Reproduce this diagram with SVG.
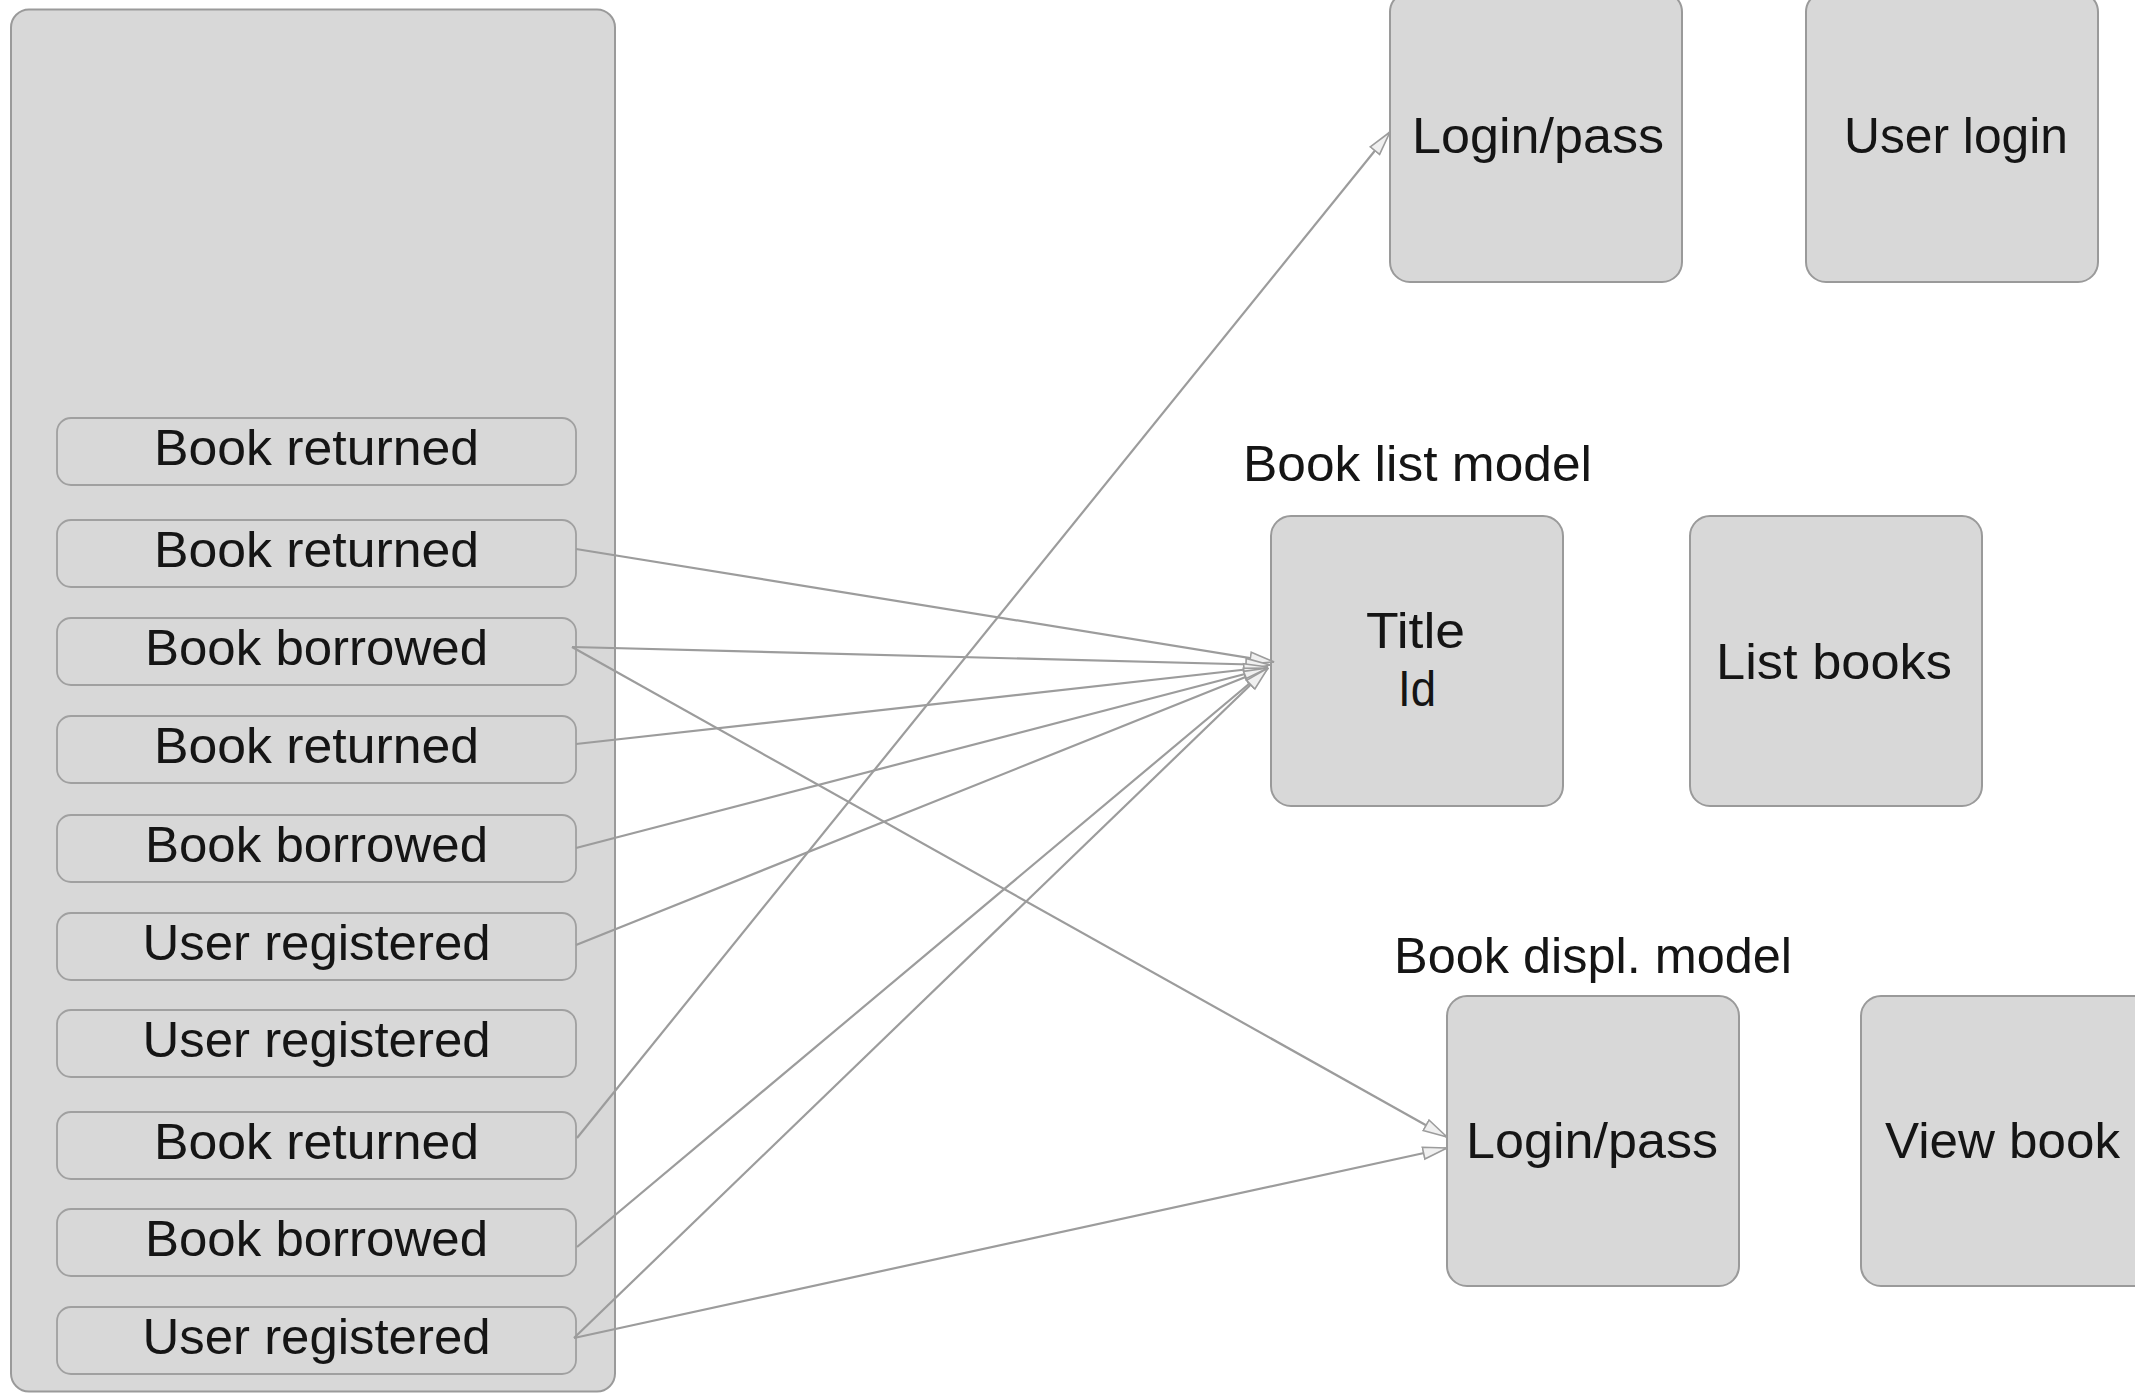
<svg xmlns="http://www.w3.org/2000/svg" width="2135" height="1393" viewBox="0 0 2135 1393">
  <style>
    .container { fill: #d8d8d8; stroke: #9a9a9a; stroke-width: 2; }
    .event { fill: #d8d8d8; stroke: #a0a0a0; stroke-width: 1.8; }
    .box { fill: #d8d8d8; stroke: #9a9a9a; stroke-width: 2; }
    .t { font-family: "Liberation Sans", Arial, sans-serif; font-size: 50px; fill: #151515; }
    .c { text-anchor: middle; }
    .conn { fill: none; stroke: #9c9c9c; stroke-width: 2.2; marker-end: url(#arrow); }
  </style>
  <defs>
    <marker id="arrow" markerUnits="userSpaceOnUse" viewBox="0 0 26 16" refX="25" refY="8" markerWidth="26" markerHeight="16" orient="auto">
      <path d="M1,2 L25,8 L1,14 Z" fill="#f0f0f0" stroke="#9c9c9c" stroke-width="1.6"/>
    </marker>
  </defs>
  <rect width="2135" height="1393" fill="#ffffff"/>

  <g id="event-store">
    <rect class="container" x="11" y="9.5" width="604" height="1382" rx="18"/>
  </g>

  <g id="ev1"><rect class="event" x="57" y="418" width="519" height="67" rx="14"/><text class="t c" x="316.5" y="465" textLength="325" lengthAdjust="spacingAndGlyphs">Book returned</text></g>
  <g id="ev2"><rect class="event" x="57" y="520" width="519" height="67" rx="14"/><text class="t c" x="316.5" y="567" textLength="325" lengthAdjust="spacingAndGlyphs">Book returned</text></g>
  <g id="ev3"><rect class="event" x="57" y="618" width="519" height="67" rx="14"/><text class="t c" x="316.5" y="665" textLength="343" lengthAdjust="spacingAndGlyphs">Book borrowed</text></g>
  <g id="ev4"><rect class="event" x="57" y="716" width="519" height="67" rx="14"/><text class="t c" x="316.5" y="763" textLength="325" lengthAdjust="spacingAndGlyphs">Book returned</text></g>
  <g id="ev5"><rect class="event" x="57" y="815" width="519" height="67" rx="14"/><text class="t c" x="316.5" y="862" textLength="343" lengthAdjust="spacingAndGlyphs">Book borrowed</text></g>
  <g id="ev6"><rect class="event" x="57" y="913" width="519" height="67" rx="14"/><text class="t c" x="316.5" y="960" textLength="348" lengthAdjust="spacingAndGlyphs">User registered</text></g>
  <g id="ev7"><rect class="event" x="57" y="1010" width="519" height="67" rx="14"/><text class="t c" x="316.5" y="1057" textLength="348" lengthAdjust="spacingAndGlyphs">User registered</text></g>
  <g id="ev8"><rect class="event" x="57" y="1112" width="519" height="67" rx="14"/><text class="t c" x="316.5" y="1159" textLength="325" lengthAdjust="spacingAndGlyphs">Book returned</text></g>
  <g id="ev9"><rect class="event" x="57" y="1209" width="519" height="67" rx="14"/><text class="t c" x="316.5" y="1256" textLength="343" lengthAdjust="spacingAndGlyphs">Book borrowed</text></g>
  <g id="ev10"><rect class="event" x="57" y="1307" width="519" height="67" rx="14"/><text class="t c" x="316.5" y="1354" textLength="348" lengthAdjust="spacingAndGlyphs">User registered</text></g>

  <g id="login-pass-top"><rect class="box" x="1390" y="-8" width="292" height="290" rx="20"/><text class="t" x="1412" y="153" textLength="252" lengthAdjust="spacingAndGlyphs">Login/pass</text></g>
  <g id="user-login"><rect class="box" x="1806" y="-8" width="292" height="290" rx="20"/><text class="t" x="1844" y="153" textLength="224" lengthAdjust="spacingAndGlyphs">User login</text></g>

  <g id="book-list-label"><text class="t" x="1243" y="481" textLength="349" lengthAdjust="spacingAndGlyphs">Book list model</text></g>
  <g id="title-id"><rect class="box" x="1271" y="516" width="292" height="290" rx="20"/><text class="t" x="1366" y="648" textLength="99" lengthAdjust="spacingAndGlyphs">Title</text><text class="t" x="1398" y="706" textLength="38" lengthAdjust="spacingAndGlyphs">Id</text></g>
  <g id="list-books"><rect class="box" x="1690" y="516" width="292" height="290" rx="20"/><text class="t" x="1716" y="679" textLength="236" lengthAdjust="spacingAndGlyphs">List books</text></g>

  <g id="book-displ-label"><text class="t" x="1394" y="973" textLength="398" lengthAdjust="spacingAndGlyphs">Book displ. model</text></g>
  <g id="login-pass-bottom"><rect class="box" x="1447" y="996" width="292" height="290" rx="20"/><text class="t" x="1466" y="1158" textLength="252" lengthAdjust="spacingAndGlyphs">Login/pass</text></g>
  <g id="view-book"><rect class="box" x="1861" y="996" width="292" height="290" rx="20"/><text class="t" x="1885" y="1158" textLength="235" lengthAdjust="spacingAndGlyphs">View book</text></g>

  <g id="connectors">
    <line class="conn" x1="576" y1="549" x2="1274" y2="662"/>
    <line class="conn" x1="572" y1="647" x2="1270" y2="665"/>
    <line class="conn" x1="572" y1="647" x2="1447" y2="1137"/>
    <line class="conn" x1="576" y1="744" x2="1268" y2="667"/>
    <line class="conn" x1="576" y1="848" x2="1268" y2="668"/>
    <line class="conn" x1="576" y1="945" x2="1268" y2="668"/>
    <line class="conn" x1="577" y1="1138" x2="1390" y2="132"/>
    <line class="conn" x1="577" y1="1247" x2="1268" y2="668"/>
    <line class="conn" x1="574" y1="1338" x2="1268" y2="668"/>
    <line class="conn" x1="574" y1="1338" x2="1447" y2="1148"/>
  </g>
</svg>
